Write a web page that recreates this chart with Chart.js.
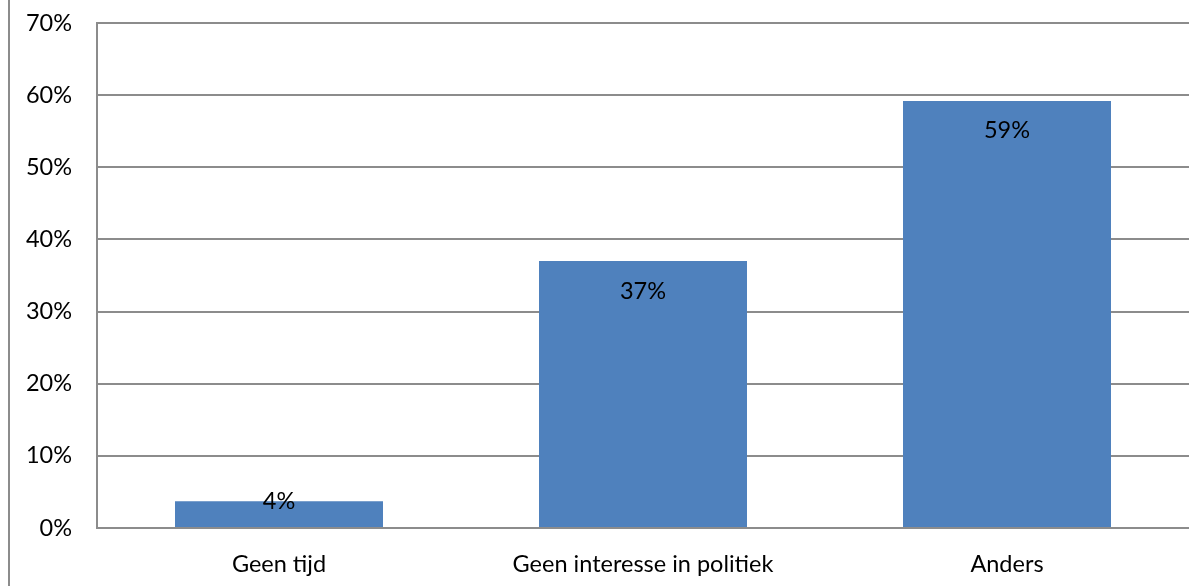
<!DOCTYPE html>
<html>
<head>
<meta charset="utf-8">
<script src="https://cdn.jsdelivr.net/npm/chart.js@4"></script>
<style>
    html, body { margin: 0; padding: 0; background: #fff; }
    #wrap { width: 1189px; height: 586px; position: relative; }
</style>
</head>
<body>
<div id="wrap"><canvas id="grafiek"></canvas></div>
<script>
const categorieen = ['Geen tijd', 'Geen interesse in politiek', 'Anders'];
const percentages = [3.7, 37, 59.2];
const labels = ['4%', '37%', '59%'];

const lettertype = 'Lato, "Open Sans", sans-serif';
const grootte = 23.5;

// outer left border of the chart frame
const kaderLijn = {
    id: 'kaderLijn',
    beforeDraw(chart) {
        const ctx = chart.ctx;
        ctx.save();
        ctx.strokeStyle = '#8c8c8c';
        ctx.lineWidth = 2;
        ctx.beginPath();
        ctx.moveTo(9, 0);
        ctx.lineTo(9, chart.height);
        ctx.stroke();
        ctx.restore();
    }
};

// value labels at the inside end of each bar
const waardeLabels = {
    id: 'waardeLabels',
    afterDatasetsDraw(chart) {
        const ctx = chart.ctx;
        const meta = chart.getDatasetMeta(0);
        ctx.save();
        ctx.font = grootte + 'px ' + lettertype;
        ctx.fillStyle = '#000';
        ctx.textAlign = 'center';
        ctx.textBaseline = 'middle';
        meta.data.forEach((bar, i) => {
            const hoogte = bar.base - bar.y;
            const y = hoogte < 60 ? bar.y : bar.y + 30;
            ctx.fillText(labels[i], bar.x, y);
        });
        ctx.restore();
    }
};

new Chart(document.getElementById('grafiek'), {
    type: 'bar',
    data: {
        labels: categorieen,
        datasets: [{
            data: percentages,
            backgroundColor: '#4F81BD',
            borderWidth: 0,
            categoryPercentage: 1,
            barPercentage: 1 / 1.75
        }]
    },
    options: {
        responsive: true,
        maintainAspectRatio: false,
        animation: false,
        layout: {
            padding: { top: 23, right: 0, bottom: 0, left: 0 }
        },
        plugins: {
            legend: { display: false },
            tooltip: { enabled: false }
        },
        scales: {
            x: {
                grid: { display: false, drawTicks: false },
                border: { display: true, color: '#8c8c8c', width: 2 },
                ticks: {
                    color: '#000',
                    font: { family: lettertype, size: grootte },
                    padding: 22,
                    maxRotation: 0
                },
                afterFit(scale) {
                    scale.height = 58;
                    scale.paddingLeft = 0;
                    scale.paddingRight = 0;
                }
            },
            y: {
                min: 0,
                max: 70,
                grid: { color: '#8c8c8c', lineWidth: 2, drawTicks: false },
                border: { display: true, color: '#8c8c8c', width: 2 },
                ticks: {
                    stepSize: 10,
                    color: '#000',
                    font: { family: lettertype, size: grootte },
                    padding: 25,
                    callback: (v) => v + '%'
                },
                afterFit(scale) {
                    scale.width = 97;
                    scale.paddingTop = 0;
                    scale.paddingBottom = 0;
                }
            }
        }
    },
    plugins: [kaderLijn, waardeLabels]
});
</script>
</body>
</html>
